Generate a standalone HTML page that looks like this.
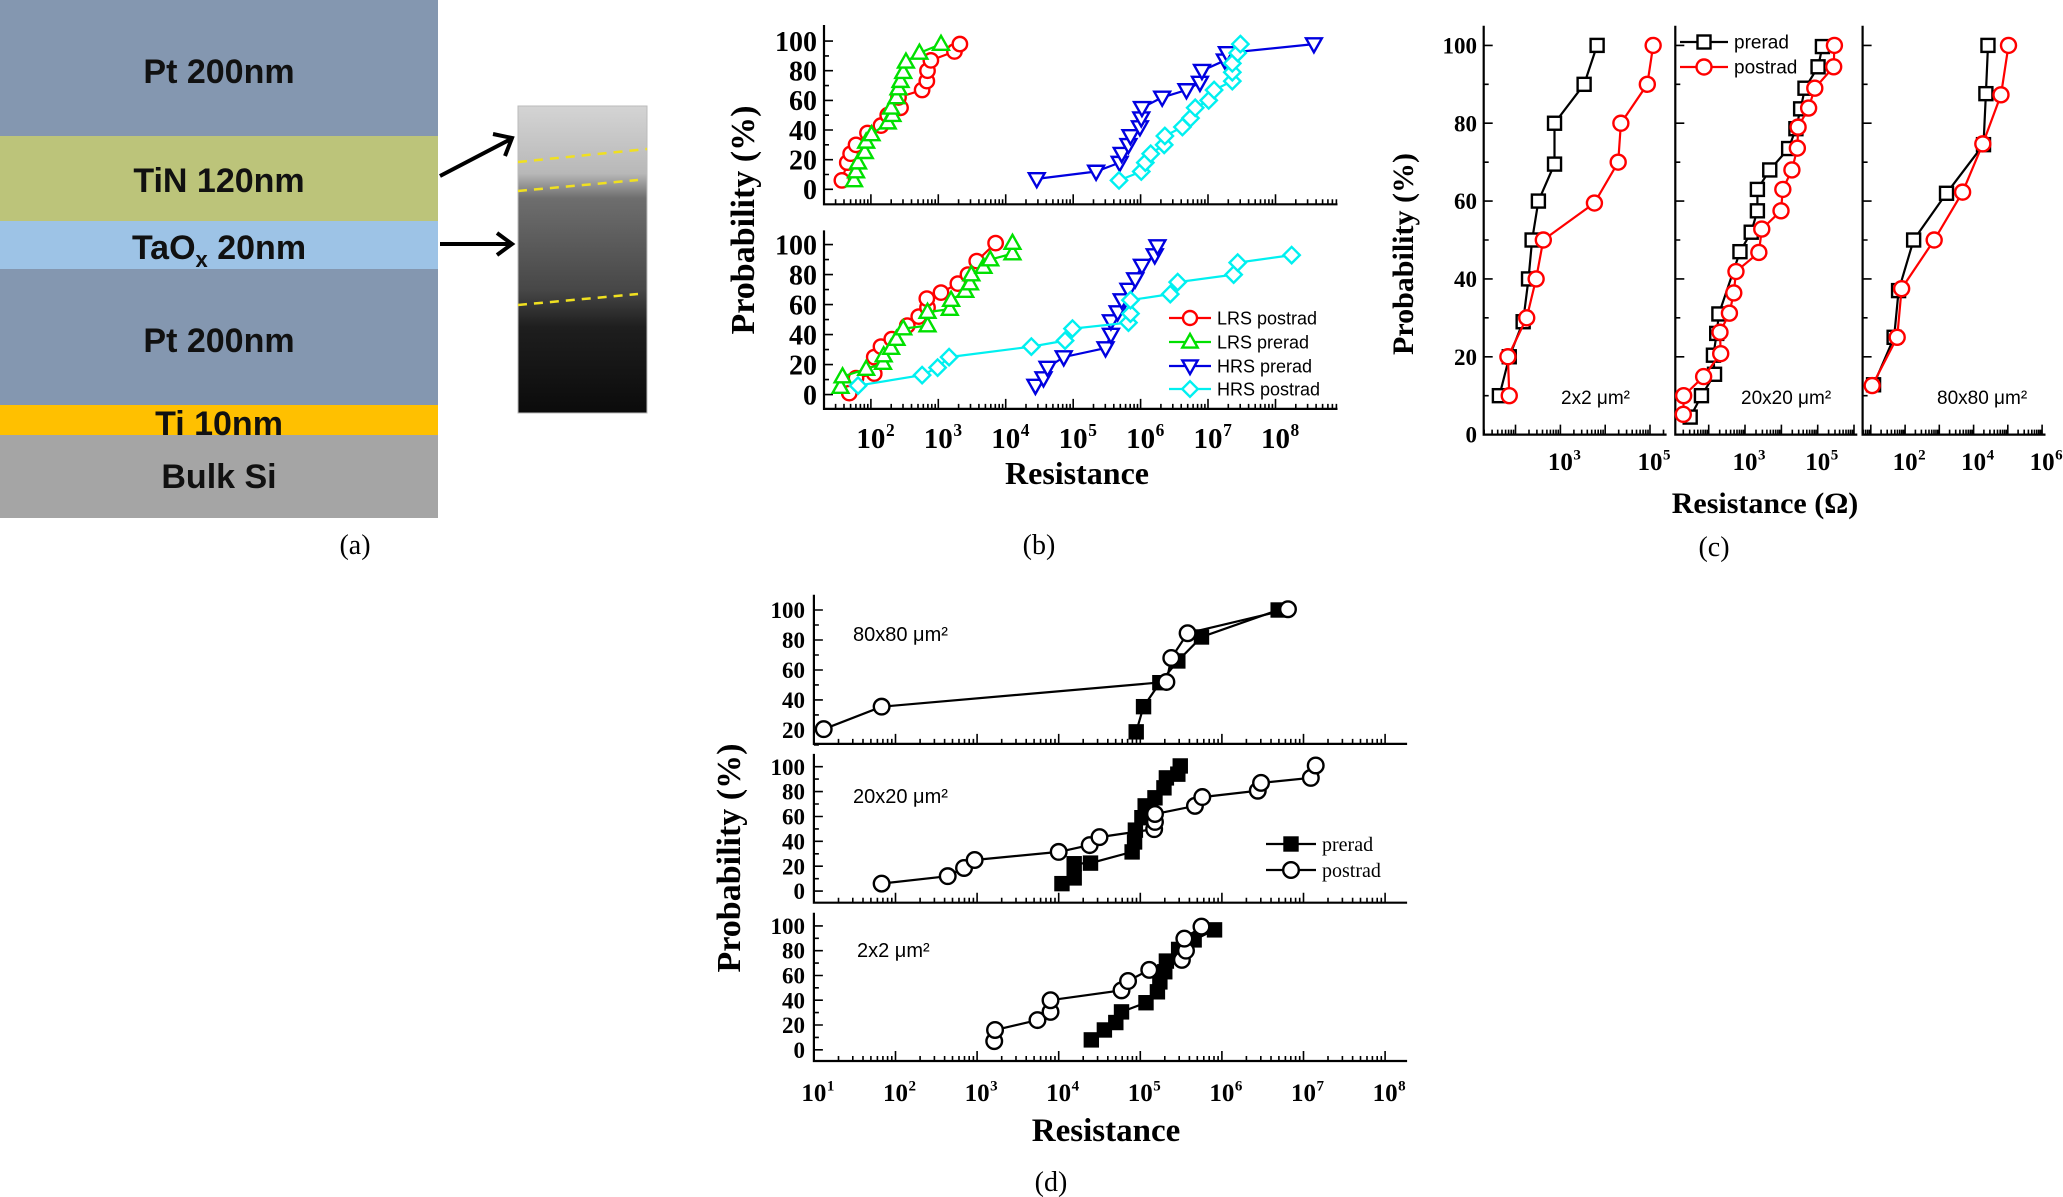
<!DOCTYPE html>
<html><head><meta charset="utf-8"><title>Resistance distributions</title>
<style>
html,body{margin:0;padding:0;background:#fff;}
svg{display:block;}
.serif{font-family:"Liberation Serif",serif;}
.sans{font-family:"Liberation Sans",sans-serif;}
</style></head>
<body>
<svg id="fig" xmlns="http://www.w3.org/2000/svg" width="2063" height="1197" viewBox="0 0 2063 1197">
  <g class="sans" font-weight="bold" font-size="34" text-anchor="middle" fill="#111">
    <rect x="0" y="0" width="438" height="136" fill="#8497b0"/>
    <rect x="0" y="136" width="438" height="85" fill="#bcc47a"/>
    <rect x="0" y="221" width="438" height="48" fill="#9dc3e6"/>
    <rect x="0" y="269" width="438" height="136" fill="#8497b0"/>
    <rect x="0" y="405" width="438" height="30" fill="#ffc000"/>
    <rect x="0" y="435" width="438" height="83" fill="#a5a5a5"/>
    <text x="219" y="83">Pt 200nm</text>
    <text x="219" y="192">TiN 120nm</text>
    <text x="219" y="259">TaO<tspan font-size="22" dy="8">x</tspan><tspan dy="-8"> 20nm</tspan></text>
    <text x="219" y="352">Pt 200nm</text>
    <text x="219" y="435">Ti 10nm</text>
    <text x="219" y="488">Bulk Si</text>
  </g>
  <defs>
    <linearGradient id="temg" x1="0" y1="0" x2="0" y2="1">
      <stop offset="0" stop-color="#d4d4d4"/>
      <stop offset="0.22" stop-color="#b8b8b8"/>
      <stop offset="0.3" stop-color="#6e6e6e"/>
      <stop offset="0.6" stop-color="#474747"/>
      <stop offset="0.72" stop-color="#1e1e1e"/>
      <stop offset="1" stop-color="#0b0b0b"/>
    </linearGradient>
  </defs>
  <g>
    <rect x="518" y="106" width="129" height="307" fill="url(#temg)" stroke="#bbb" stroke-width="1"/>
    <line x1="518" y1="162" x2="647" y2="149" stroke="#f0e020" stroke-width="2.5" stroke-dasharray="9,7"/>
    <line x1="518" y1="191" x2="638" y2="180" stroke="#f0e020" stroke-width="2.5" stroke-dasharray="9,7"/>
    <line x1="518" y1="305" x2="638" y2="294" stroke="#f0e020" stroke-width="2.5" stroke-dasharray="9,7"/>
  </g>
  <g stroke="#000" stroke-width="4" fill="none">
    <line x1="440" y1="176" x2="511" y2="139"/>
    <polyline points="493,134 512,138 505,156"/>
    <line x1="440" y1="244" x2="511" y2="244"/>
    <polyline points="497,233 512,244 497,255"/>
  </g>
  <text class="serif" x="355" y="554" font-size="28" text-anchor="middle">(a)</text>
  <g id="charts"></g>
</svg>
<script>
const bTopLrsPostLogR = [1.57,1.65,1.70,1.78,1.95,2.15,2.25,2.44,2.41,2.76,2.83,2.84,2.89,3.24,3.32];
const bTopLrsPostP    = [6,18,24,30,38,43,50,55,62,67,73,80,87,93,98];
const bTopLrsPreLogR  = [1.75,1.78,1.81,1.91,1.93,2.01,2.25,2.32,2.30,2.38,2.41,2.44,2.48,2.52,2.72,3.04];
const bTopLrsPreP     = [6,12,18,25,32,37,45,50,55,62,68,73,79,86,92,98];
const bTopHrsPreLogR  = [4.46,5.34,5.69,5.72,5.82,5.85,5.99,6.01,6.02,6.32,6.68,6.88,6.91,7.25,7.28,8.57];
const bTopHrsPreP     = [7,12,18,24,30,36,42,48,55,62,67,72,80,87,92,98];
const bTopHrsPostLogR = [5.68,6.01,6.07,6.15,6.35,6.36,6.62,6.74,6.81,7.01,7.09,7.36,7.36,7.36,7.44,7.48];
const bTopHrsPostP    = [6,12,18,24,30,36,42,48,55,60,67,73,79,85,92,98];

const bBotLrsPostLogR = [1.68,1.78,2.05,2.05,2.15,2.31,2.54,2.71,2.84,2.83,3.04,3.29,3.44,3.57,3.85];
const bBotLrsPostP    = [1,11,14,25,32,37,46,52,58,64,68,74,80,89,101];
const bBotLrsPreLogR  = [1.55,1.58,1.93,2.18,2.19,2.30,2.38,2.48,2.84,2.84,3.17,3.19,3.40,3.47,3.49,3.67,3.77,4.10,4.10];
const bBotLrsPreP     = [5,12,17,21,26,31,37,44,46,55,57,63,69,74,80,85,90,94,101];
const bBotHrsPreLogR  = [4.44,4.56,4.62,4.86,5.48,5.56,5.56,5.66,5.72,5.82,5.92,6.02,6.21,6.25];
const bBotHrsPreP     = [6,11,18,25,31,40,49,55,63,70,77,86,93,99];
const bBotHrsPostLogR = [1.81,2.76,2.99,3.16,4.38,4.88,4.99,5.82,5.85,5.85,6.44,6.55,7.38,7.44,8.24];
const bBotHrsPostP    = [6,13,18,25,32,36,44,48,54,63,67,75,80,88,93];

const c2PreLogR  = [1.64,1.86,2.17,2.29,2.37,2.51,2.87,2.87,3.53,3.82];
const c2PreP     = [10,20,29,40,50,60,69.5,80,90,100];
const c2PostLogR = [1.86,1.83,2.25,2.46,2.62,3.76,4.29,4.35,4.94,5.07];
const c2PostP    = [10,20,30,40,50,59.5,70,80,90,100];
const c20PreLogR  = [1.49,1.80,2.16,2.13,2.22,2.28,2.86,3.17,3.34,3.34,3.68,4.20,4.40,4.53,4.65,5.01,5.13];
const c20PreP     = [4.5,10,15.5,20.4,26,31,47,52,57.5,63,68,73.5,78.6,83.7,89,94.5,99.7];
const c20PostLogR = [1.30,1.31,1.86,2.33,2.31,2.57,2.69,2.75,3.38,3.46,3.99,4.04,4.29,4.44,4.46,4.75,4.92,5.44,5.46];
const c20PostP    = [5.2,10,14.9,20.8,26.3,31.2,36.4,41.9,46.8,52.8,57.5,63,68,73.6,79,83.9,89,94.5,100];
const c80PreLogR  = [1.08,1.68,1.81,2.25,3.21,4.29,4.36,4.42];
const c80PreP     = [12.8,25,37,50,62,74.5,87.6,100];
const c80PostLogR = [1.04,1.77,1.90,2.85,3.68,4.27,4.80,5.02];
const c80PostP    = [12.6,25,37.5,50,62.3,74.7,87.3,100];

const d80PreLogR  = [4.95,5.04,5.24,5.46,5.75,6.69];
const d80PreP     = [18.7,35.5,51.5,66,82,100];
const d80PostLogR = [1.12,1.83,5.32,5.38,5.58,6.81];
const d80PostP    = [20.5,35.5,52,68,84.5,100.5];
const d20PreLogR  = [4.04,4.19,4.19,4.39,4.90,4.93,4.94,5.02,5.06,5.18,5.29,5.32,5.46,5.49];
const d20PreP     = [6,10.6,22,22.5,31.5,39.5,49,59,68.5,75,83,91,94,100.6];
const d20PostLogR = [1.83,2.64,2.84,2.97,4.00,4.38,4.50,5.17,5.18,5.18,5.67,5.76,6.44,6.48,7.09,7.15];
const d20PostP    = [6,12,18.6,25,31.5,37,43.4,49.8,55.6,62,68.5,75.6,80.7,87,91,101];
const d2PreLogR  = [4.40,4.56,4.70,4.77,5.07,5.21,5.24,5.30,5.32,5.47,5.66,5.91];
const d2PreP     = [8,16,22,30.6,38,46.8,54.8,63,71.6,81,88.7,96.8];
const d2PostLogR = [3.21,3.22,3.74,3.90,3.90,4.77,4.85,5.11,5.51,5.56,5.54,5.75];
const d2PostP    = [7,16,24,30.6,40,48,55.5,64.5,72.6,80,89.7,99.4];

const yTicksFull = [0,20,40,60,80,100];
const yTicks20 = [20,40,60,80,100];
const bXExps = [2,3,4,5,6,7,8];
const c2XExps = [3,5];
const c20XExps = [3,5];
const c80XExps = [2,4,6];
const dXExps = [1,2,3,4,5,6,7,8];

const NS = 'http://www.w3.org/2000/svg';
const root = document.getElementById('charts');
function mk(tag, parent){ const e = document.createElementNS(NS, tag); parent.appendChild(e); return e; }
function geo(e, a){ for (const k in a) e.setAttribute(k, a[k]); return e; }

function marker(g, shape, x, y, r, color, filled){
  let e;
  if (shape === 'circle'){ e = mk('circle', g); geo(e,{cx:x, cy:y, r:r}); }
  else if (shape === 'square'){ e = mk('rect', g); geo(e,{x:x-r, y:y-r, width:2*r, height:2*r}); }
  else if (shape === 'tri-up'){ e = mk('polygon', g); geo(e,{points:`${x},${y-r*1.15} ${x-r*1.1},${y+r*0.8} ${x+r*1.1},${y+r*0.8}`}); }
  else if (shape === 'tri-down'){ e = mk('polygon', g); geo(e,{points:`${x},${y+r*1.15} ${x-r*1.1},${y-r*0.8} ${x+r*1.1},${y-r*0.8}`}); }
  else { e = mk('polygon', g); geo(e,{points:`${x},${y-r*1.2} ${x+r*1.2},${y} ${x},${y+r*1.2} ${x-r*1.2},${y}`}); }
  
  
  geo(e,{fill: filled ? color : '#fff', stroke: color, 'stroke-width': 2.4});
  return e;
}

function subplot(name, p, series){
  const g = mk('g', root);
  
  
  const sx = l => p.x0 + (l - p.lmin) / (p.lmax - p.lmin) * (p.x1 - p.x0);
  const sy = v => p.y0 + v / 100 * (p.y100 - p.y0);
  const ax = mk('path', g);
  
  
  geo(ax,{d:`M${p.x0},${p.top} V${p.bottom} H${p.x1}`, fill:'none', stroke:'#000', 'stroke-width':2.2});
  let td = '';
  for (let d = Math.floor(p.lmin); d <= Math.ceil(p.lmax); d++){
    for (let m = 1; m <= 9; m++){
      const l = d + Math.log10(m);
      if (l < p.lmin || l > p.lmax) continue;
      const x = sx(l), len = m === 1 ? 10 : 5;
      td += `M${x.toFixed(1)},${p.bottom} v${-len} `;
    }
  }
  for (let i = 0; i < p.yTicks.length; i++){
    const v = p.yTicks[i];
    td += `M${p.x0},${sy(v).toFixed(1)} h9 `;
    if (i < p.yTicks.length - 1){ const vm = (v + p.yTicks[i+1]) / 2; td += `M${p.x0},${sy(vm).toFixed(1)} h5 `; }
  }
  if (p.yTicks[0] > 0){ td += `M${p.x0},${sy(p.yTicks[0]-10).toFixed(1)} h5 `; }
  const tk = mk('path', g);
  
  
  geo(tk,{d:td, stroke:'#000', 'stroke-width':1.6, fill:'none'});
  if (p.yLabels){
    for (const v of p.yTicks){
      const t = mk('text', g);
      
      
      geo(t,{x:p.yLabelX, y:sy(v) + p.yfs*0.35, 'text-anchor':'end', 'font-size':p.yfs, 'font-weight':'bold', class:'serif'});
      t.textContent = v;
    }
  }
  if (p.xExps){
    for (const e of p.xExps){
      const x = sx(e);
      const t = mk('text', g);
      
      
      geo(t,{x:x, y:p.xLabelY, 'text-anchor':'middle', 'font-size':p.xfs, 'font-weight':'bold', class:'serif'});
      t.textContent = '10';
      const s = mk('text', g);
      
      
      geo(s,{x:x + p.xfs*0.52, y:p.xLabelY - p.xfs*0.42, 'font-size':p.xfs*0.6, 'font-weight':'bold', class:'serif'});
      s.textContent = e;
    }
  }
  for (const s of series){
    const sg = mk('g', g);
    
    
    const pts = s.logR.map((l,i) => `${sx(l).toFixed(1)},${sy(s.P[i]).toFixed(1)}`).join(' ');
    const pl = mk('polyline', sg);
    
    
    geo(pl,{points:pts, fill:'none', stroke:s.line || s.color, 'stroke-width':2.2});
    s.logR.forEach((l,i) => marker(sg, s.shape, sx(l), sy(s.P[i]), s.r, s.color, s.filled));
  }
  return g;
}

function text(name, x, y, str, fs, opts){
  const t = mk('text', root);
  
  
  geo(t,{x:x, y:y, 'font-size':fs, class:opts.cls || 'serif', 'text-anchor':opts.anchor || 'middle'});
  if (opts.bold) t.setAttribute('font-weight','bold');
  if (opts.rot) t.setAttribute('transform', `rotate(-90 ${x} ${y})`);
  t.textContent = str;
  return t;
}
function legendRow(name, x1, x2, y, shape, color, filled, label, fs, cls, r){
  const g = mk('g', root);
  
  
  const l = mk('line', g);
  
  
  geo(l,{x1:x1, y1:y, x2:x2, y2:y, stroke:color, 'stroke-width':2.2});
  marker(g, shape, (x1+x2)/2, y, r, color, filled);
  const t = mk('text', g);
  
  
  geo(t,{x:x2+6, y:y+fs*0.35, 'font-size':fs, class:cls});
  t.textContent = label;
}

const bBase = {x0:824, x1:1337.5, lmin:1.305, lmax:8.92, yTicks:yTicksFull, yLabels:true, yLabelX:817, yfs:28, xfs:29};
const RED='#ff0000', GRN='#00e000', BLU='#0000e0', CYN='#00f0f0';
subplot('panel-b-top', Object.assign({}, bBase, {y0:189.3, y100:41.1, top:25, bottom:204.3}), [
  {name:'b-top-lrs-postrad', logR:bTopLrsPostLogR, P:bTopLrsPostP, color:RED, shape:'circle', r:7.2},
  {name:'b-top-lrs-prerad', logR:bTopLrsPreLogR, P:bTopLrsPreP, color:GRN, shape:'tri-up', r:7.2},
  {name:'b-top-hrs-prerad', logR:bTopHrsPreLogR, P:bTopHrsPreP, color:BLU, shape:'tri-down', r:7.2},
  {name:'b-top-hrs-postrad', logR:bTopHrsPostLogR, P:bTopHrsPostP, color:CYN, shape:'diamond', r:6.8}
]);
subplot('panel-b-bottom', Object.assign({}, bBase, {y0:394.6, y100:244.6, top:230.4, bottom:408.9, xExps:bXExps, xLabelY:448}), [
  {name:'b-bot-lrs-postrad', logR:bBotLrsPostLogR, P:bBotLrsPostP, color:RED, shape:'circle', r:7.2},
  {name:'b-bot-lrs-prerad', logR:bBotLrsPreLogR, P:bBotLrsPreP, color:GRN, shape:'tri-up', r:7.2},
  {name:'b-bot-hrs-prerad', logR:bBotHrsPreLogR, P:bBotHrsPreP, color:BLU, shape:'tri-down', r:7.2},
  {name:'b-bot-hrs-postrad', logR:bBotHrsPostLogR, P:bBotHrsPostP, color:CYN, shape:'diamond', r:6.8}
]);
text('b-y-axis-title', 754, 220, 'Probability (%)', 34, {bold:true, rot:true});
text('b-x-axis-title', 1077, 484, 'Resistance', 32, {bold:true});
text('panel-b-label', 1039, 554, '(b)', 28, {});
legendRow('legend-lrs-postrad', 1169, 1211, 318, 'circle', RED, false, 'LRS postrad', 18, 'sans', 7);
legendRow('legend-lrs-prerad', 1169, 1211, 342, 'tri-up', GRN, false, 'LRS prerad', 18, 'sans', 7);
legendRow('legend-hrs-prerad', 1169, 1211, 366, 'tri-down', BLU, false, 'HRS prerad', 18, 'sans', 7);
legendRow('legend-hrs-postrad', 1169, 1211, 389, 'diamond', CYN, false, 'HRS postrad', 18, 'sans', 6.5);

const cBase = {y0:434.6, y100:45.4, top:25.7, bottom:434.6, yTicks:yTicksFull, yLabelX:1477, yfs:23, xfs:25, xLabelY:470};
subplot('panel-c-2x2', Object.assign({}, cBase, {x0:1483.7, x1:1666.6, lmin:1.29, lmax:5.37, yLabels:true, xExps:c2XExps}), [
  {name:'c-2x2-prerad', logR:c2PreLogR, P:c2PreP, color:'#000', shape:'square', r:6.5},
  {name:'c-2x2-postrad', logR:c2PostLogR, P:c2PostP, color:RED, shape:'circle', r:7.5}
]);
subplot('panel-c-20x20', Object.assign({}, cBase, {x0:1675.3, x1:1857.3, lmin:1.08, lmax:6.09, yLabels:false, xExps:c20XExps}), [
  {name:'c-20x20-prerad', logR:c20PreLogR, P:c20PreP, color:'#000', shape:'square', r:6.5},
  {name:'c-20x20-postrad', logR:c20PostLogR, P:c20PostP, color:RED, shape:'circle', r:7.5}
]);
subplot('panel-c-80x80', Object.assign({}, cBase, {x0:1862.6, x1:2045.5, lmin:0.76, lmax:6.1, yLabels:false, xExps:c80XExps}), [
  {name:'c-80x80-prerad', logR:c80PreLogR, P:c80PreP, color:'#000', shape:'square', r:6.5},
  {name:'c-80x80-postrad', logR:c80PostLogR, P:c80PostP, color:RED, shape:'circle', r:7.5}
]);
text('c-y-axis-title', 1413, 254, 'Probability (%)', 30, {bold:true, rot:true});
text('c-x-axis-title', 1765, 513, 'Resistance (Ω)', 30, {bold:true});
text('panel-c-label', 1714, 556, '(c)', 28, {});
text('c-area-2x2', 1561, 404, '2x2 μm²', 19, {cls:'sans', anchor:'start'});
text('c-area-20x20', 1741, 404, '20x20 μm²', 19, {cls:'sans', anchor:'start'});
text('c-area-80x80', 1937, 404, '80x80 μm²', 19, {cls:'sans', anchor:'start'});
legendRow('c-legend-prerad', 1680, 1728, 42, 'square', '#000', false, 'prerad', 19, 'sans', 6.5);
legendRow('c-legend-postrad', 1680, 1728, 67, 'circle', RED, false, 'postrad', 19, 'sans', 7.5);

const dBase = {x0:813.9, x1:1407.1, lmin:1, lmax:8.27, yLabels:true, yLabelX:805, yfs:23, xfs:25};
subplot('panel-d-80x80', Object.assign({}, dBase, {y0:610 + 100*(729.9-610)/80, y100:610, top:594.8, bottom:743.9, yTicks:yTicks20}), [
  {name:'d-80x80-prerad', logR:d80PreLogR, P:d80PreP, color:'#000', shape:'square', r:6.5, filled:true},
  {name:'d-80x80-postrad', logR:d80PostLogR, P:d80PostP, color:'#000', shape:'circle', r:7.8}
]);
subplot('panel-d-20x20', Object.assign({}, dBase, {y0:891.1, y100:766.7, top:753.9, bottom:902.7, yTicks:yTicksFull}), [
  {name:'d-20x20-prerad', logR:d20PreLogR, P:d20PreP, color:'#000', shape:'square', r:6.5, filled:true},
  {name:'d-20x20-postrad', logR:d20PostLogR, P:d20PostP, color:'#000', shape:'circle', r:7.8}
]);
subplot('panel-d-2x2', Object.assign({}, dBase, {y0:1049.8, y100:925.9, top:912.7, bottom:1061, yTicks:yTicksFull, xExps:dXExps, xLabelY:1101}), [
  {name:'d-2x2-prerad', logR:d2PreLogR, P:d2PreP, color:'#000', shape:'square', r:6.5, filled:true},
  {name:'d-2x2-postrad', logR:d2PostLogR, P:d2PostP, color:'#000', shape:'circle', r:7.8}
]);
text('d-y-axis-title', 740, 858, 'Probability (%)', 34, {bold:true, rot:true});
text('d-x-axis-title', 1106, 1141, 'Resistance', 33, {bold:true});
text('panel-d-label', 1051, 1191, '(d)', 28, {});
text('d-area-80x80', 853, 641, '80x80 μm²', 20, {cls:'sans', anchor:'start'});
text('d-area-20x20', 853, 803, '20x20 μm²', 20, {cls:'sans', anchor:'start'});
text('d-area-2x2', 857, 957, '2x2 μm²', 20, {cls:'sans', anchor:'start'});
legendRow('d-legend-prerad', 1266, 1316, 844, 'square', '#000', true, 'prerad', 20, 'serif', 6.5);
legendRow('d-legend-postrad', 1266, 1316, 870, 'circle', '#000', false, 'postrad', 20, 'serif', 7.8);
</script>
</body></html>
